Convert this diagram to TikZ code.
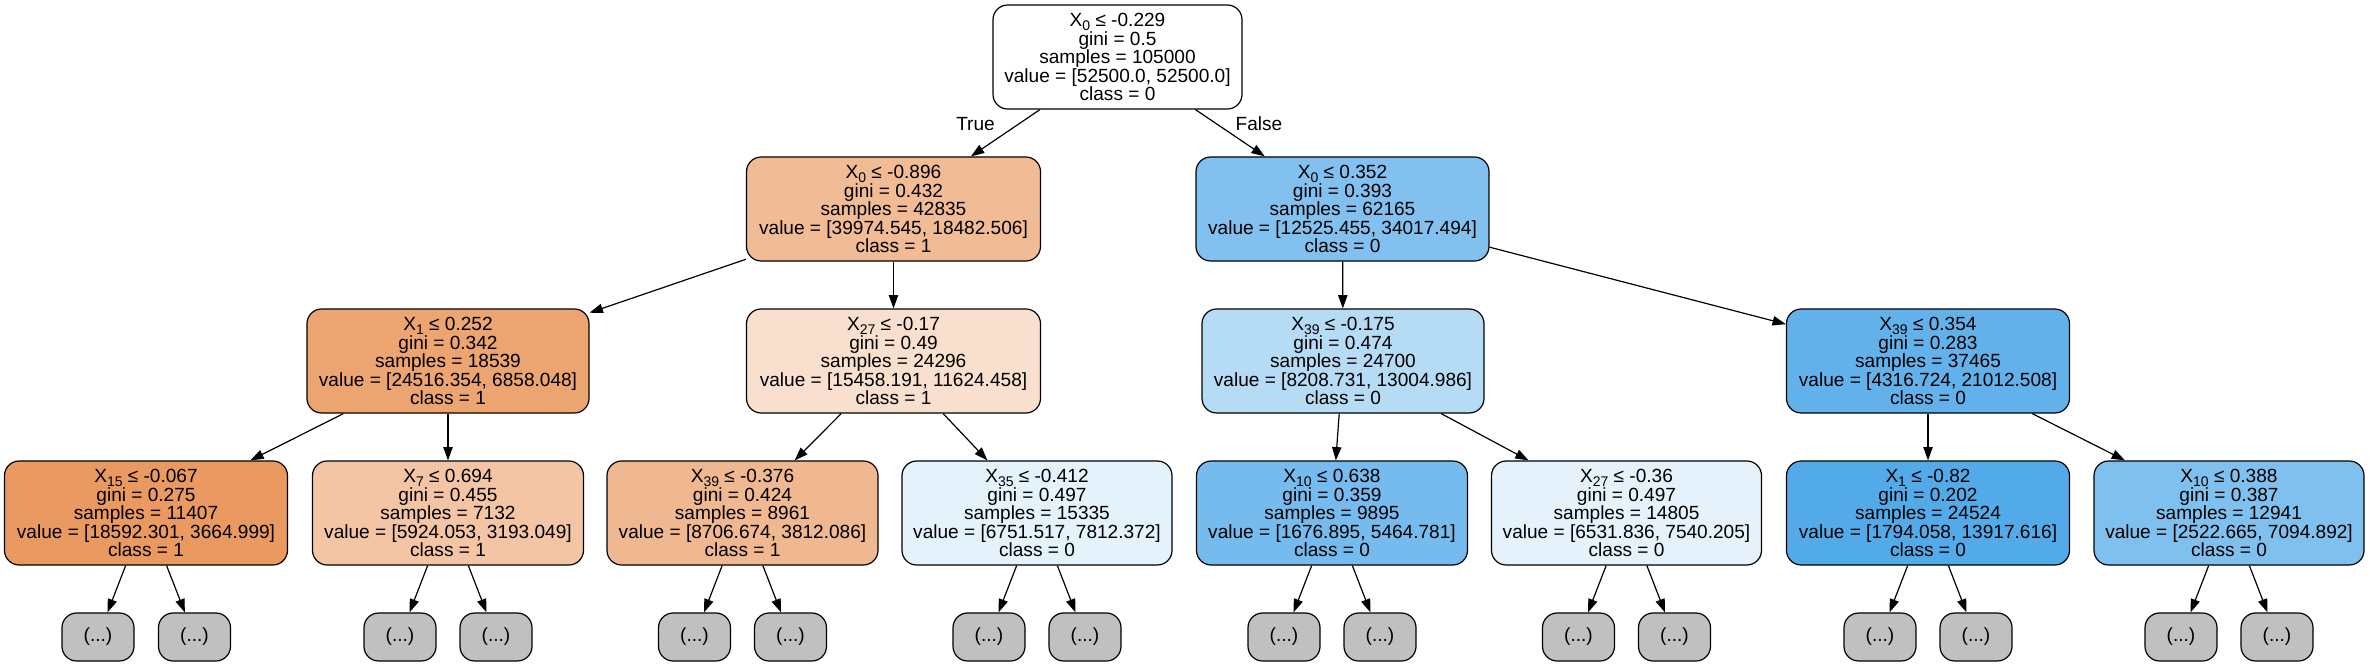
\documentclass[tikz,border=0pt]{standalone}
\usepackage{fontspec}
\setmainfont{Liberation Sans}
\usetikzlibrary{arrows.meta}
\definecolor{cA}{RGB}{241,187,149}
\definecolor{cB}{RGB}{130,193,239}
\definecolor{cC}{RGB}{236,164,112}
\definecolor{cD}{RGB}{249,224,206}
\definecolor{cE}{RGB}{182,219,245}
\definecolor{cF}{RGB}{98,177,234}
\definecolor{cG}{RGB}{234,154,96}
\definecolor{cH}{RGB}{243,197,164}
\definecolor{cI}{RGB}{240,184,144}
\definecolor{cJ}{RGB}{228,242,251}
\definecolor{cK}{RGB}{118,187,237}
\definecolor{cL}{RGB}{229,242,252}
\definecolor{cM}{RGB}{83,170,232}
\definecolor{cN}{RGB}{127,192,238}
\definecolor{leafgray}{RGB}{192,192,192}
\newcommand\Xs[1]{X\smash{\raisebox{-3pt}{\fontsize{10.5pt}{10.5pt}\selectfont #1}}}
\newcommand\tn[6]{\Xs{#1} ≤ #2\\gini = #3\\samples = #4\\value = [#5]\\class = #6}
\begin{document}
\begin{tikzpicture}[x=0.75pt,y=-0.75pt,
  treenode/.style={draw=black, line width=0.9pt, rounded corners=11pt, minimum height=78pt,
    inner sep=0pt, align=center, font=\fontsize{14.3pt}{13.9pt}\selectfont},
  w/.style={minimum width=#1*0.75pt},
  leafnode/.style={draw=black, line width=0.9pt, rounded corners=11pt, minimum width=54pt,
    minimum height=36pt, inner sep=0pt, fill=leafgray, font=\fontsize{14.3pt}{13.9pt}\selectfont},
  edgelabel/.style={inner sep=0pt, font=\fontsize{14.3pt}{13.9pt}\selectfont},
  conn/.style={draw=black, line width=0.9pt, -{Triangle[length=10pt,width=7pt]}}]
\useasboundingbox (0,0) rectangle (2370,667);
\fill[white] (0,0) rectangle (2370,667);
% level 0
\node[treenode, fill=white, w=249] (root) at (1117.5,57) {\tn{0}{-0.229}{0.5}{105000}{52500.0, 52500.0}{0}};
% level 1
\node[treenode, fill=cA, w=294] (a) at (893.5,209) {\tn{0}{-0.896}{0.432}{42835}{39974.545, 18482.506}{1}};
\node[treenode, fill=cB, w=293] (b) at (1342.5,209) {\tn{0}{0.352}{0.393}{62165}{12525.455, 34017.494}{0}};
% level 2
\node[treenode, fill=cC, w=282] (c) at (448,361) {\tn{1}{0.252}{0.342}{18539}{24516.354, 6858.048}{1}};
\node[treenode, fill=cD, w=294] (d) at (893.5,361) {\tn{27}{-0.17}{0.49}{24296}{15458.191, 11624.458}{1}};
\node[treenode, fill=cE, w=282] (e) at (1343,361) {\tn{39}{-0.175}{0.474}{24700}{8208.731, 13004.986}{0}};
\node[treenode, fill=cF, w=283] (f) at (1928,361) {\tn{39}{0.354}{0.283}{37465}{4316.724, 21012.508}{0}};
% level 3
\node[treenode, fill=cG, w=283] (g) at (146,513) {\tn{15}{-0.067}{0.275}{11407}{18592.301, 3664.999}{1}};
\node[treenode, fill=cH, w=271] (h) at (448,513) {\tn{7}{0.694}{0.455}{7132}{5924.053, 3193.049}{1}};
\node[treenode, fill=cI, w=271] (i) at (742.5,513) {\tn{39}{-0.376}{0.424}{8961}{8706.674, 3812.086}{1}};
\node[treenode, fill=cJ, w=270] (j) at (1037,513) {\tn{35}{-0.412}{0.497}{15335}{6751.517, 7812.372}{0}};
\node[treenode, fill=cK, w=271] (k) at (1332,513) {\tn{10}{0.638}{0.359}{9895}{1676.895, 5464.781}{0}};
\node[treenode, fill=cL, w=270] (l) at (1626.5,513) {\tn{27}{-0.36}{0.497}{14805}{6531.836, 7540.205}{0}};
\node[treenode, fill=cM, w=283] (m) at (1928,513) {\tn{1}{-0.82}{0.202}{24524}{1794.058, 13917.616}{0}};
\node[treenode, fill=cN, w=270] (n) at (2229,513) {\tn{10}{0.388}{0.387}{12941}{2522.665, 7094.892}{0}};
% edges
\draw[conn] (root) -- (a);
\draw[conn] (root) -- (b);
\draw[conn] (a) -- (c);
\draw[conn] (a) -- (d);
\draw[conn] (b) -- (e);
\draw[conn] (b) -- (f);
\draw[conn] (c) -- (g);
\draw[conn] (c) -- (h);
\draw[conn] (d) -- (i);
\draw[conn] (d) -- (j);
\draw[conn] (e) -- (k);
\draw[conn] (e) -- (l);
\draw[conn] (f) -- (m);
\draw[conn] (f) -- (n);
% edge labels
\node[edgelabel] (truelbl) at (975.5,124) {True};
\node[edgelabel] (falselbl) at (1259,124) {False};
% leaves
\foreach \p/\xa/\xb in {g/98/194.5, h/400/496, i/694.5/790.5, j/989/1085,
  k/1284/1380, l/1578.5/1674.5, m/1880/1976, n/2181/2277} {
  \node[leafnode] (\p1) at (\xa,637) {(...)};
  \node[leafnode] (\p2) at (\xb,637) {(...)};
  \draw[conn] (\p) -- (\p1);
  \draw[conn] (\p) -- (\p2);
}
\end{tikzpicture}
\end{document}
